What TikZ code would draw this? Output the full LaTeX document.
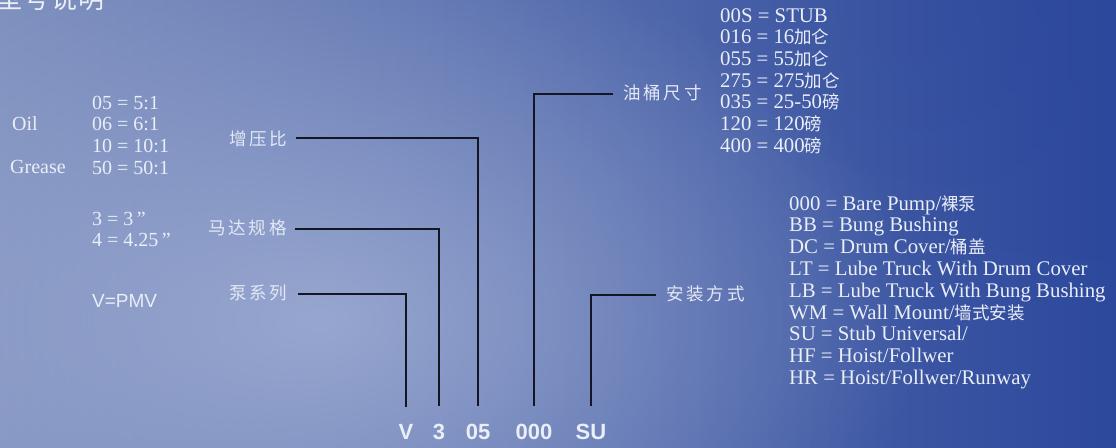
\documentclass[tikz,border=0pt]{standalone}
\usepackage{fontspec}
\setmainfont{Liberation Serif}
\setsansfont{Liberation Sans}
\newfontfamily\cjk{Noto Sans CJK SC}
\usetikzlibrary{fadings}
\definecolor{bgL}{RGB}{126,144,190}
\definecolor{bgR}{RGB}{44,72,156}
\definecolor{glowC}{RGB}{160,174,212}
\definecolor{txt}{RGB}{234,238,247}
\definecolor{lineC}{RGB}{20,22,38}
\tikzfading[name=glowfade, inner color=transparent!0, outer color=transparent!100]
\newcommand\zhtxt[1]{{\cjk\fontsize{17.5}{20}\selectfont #1}}
\begin{document}
\begin{tikzpicture}[x=1pt,y=-1pt,
  lst/.style={text=txt, font=\fontsize{20}{22}\selectfont, inner sep=0, anchor=base west},
  lstb/.style={lst, font=\fontsize{20.8}{22}\selectfont},
  cnlbl/.style={text=txt!94!bgL, font=\cjk\fontsize{17.5}{20}\selectfont\addfontfeature{LetterSpace=16}, inner sep=0, anchor=west},
  codelbl/.style={text=txt, font=\sffamily\bfseries\fontsize{22}{24}\selectfont, inner sep=0, anchor=base},
  lead/.style={draw=lineC, line width=2.4pt}]
\useasboundingbox (0,0) rectangle (1116,447);
\clip (0,0) rectangle (1116,447);
\shade[left color=bgL, right color=bgR] (0,0) rectangle (1116,447);
\fill[glowC, path fading=glowfade, opacity=0.85] (320,320) ellipse [x radius=600, y radius=380];
\fill[bgR, path fading=glowfade, opacity=0.5] (1116,0) ellipse [x radius=420, y radius=260];

% title
\node[text=txt, font=\cjk\fontsize{26}{28}\selectfont\addfontfeature{LetterSpace=6}, inner sep=0, anchor=base west] (title) at (-4,9) {型号说明};

% left texts
\node[lst] (oil) at (12,130) {Oil};
\node[lst] (grease) at (10,173) {Grease};
\foreach \t [count=\i from 0] in {{05 = 5:1},{06 = 6:1},{10 = 10:1},{50 = 50:1}}
  \node[lst] (ratio\i) at (92,{109+21.7*\i}) {\t};
\node[lst] (m3) at (92,225) {3 = 3\,”};
\node[lst] (m4) at (92,246) {4 = 4.25\,”};
\node[text=txt, font=\sffamily\fontsize{19}{22}\selectfont, inner sep=0, anchor=base west] (vpmv) at (92,307) {V=PMV};

% right lists
\foreach \t [count=\i from 0] in {{00S = STUB},{016 = 16\zhtxt{加仑}},{055 = 55\zhtxt{加仑}},{275 = 275\zhtxt{加仑}},{035 = 25-50\zhtxt{磅}},{120 = 120\zhtxt{磅}},{400 = 400\zhtxt{磅}}}
  \node[lstb] (drum\i) at (720,{22+21.7*\i}) {\t};
\foreach \t [count=\i from 0] in {{000 = Bare Pump/\zhtxt{裸泵}},{BB = Bung Bushing},{DC = Drum Cover/\zhtxt{桶盖}},{LT = Lube Truck With Drum Cover},{LB = Lube Truck With Bung Bushing},{WM = Wall Mount/\zhtxt{墙式安装}},{SU = Stub Universal/},{HF = Hoist/Follwer},{HR = Hoist/Follwer/Runway}}
  \node[lstb] (mount\i) at (789,{210+21.8*\i}) {\t};

% chinese labels
\node[cnlbl] (lbRatio) at (229,139) {增压比};
\node[cnlbl] (lbMotor) at (208,228) {马达规格};
\node[cnlbl] (lbSeries) at (229,293) {泵系列};
\node[cnlbl] (lbDrum) at (623,93) {油桶尺寸};
\node[cnlbl] (lbMount) at (666,294) {安装方式};

% codes
\node[codelbl] (cV) at (406,439) {V};
\node[codelbl] (c3) at (439,439) {3};
\node[codelbl] (c05) at (478,439) {05};
\node[codelbl] (c000) at (534,439) {000};
\node[codelbl] (cSU) at (591,439) {SU};

% leaders
\draw[lead] (lbSeries.east) ++(10,1) -| ([yshift=17pt]cV.north);
\draw[lead] (lbMotor.east) ++(8,1) -| ([yshift=17pt]c3.north);
\draw[lead] (lbRatio.east) ++(8,-1) -| ([yshift=17pt]c05.north);
\draw[lead] (lbDrum.west) ++(-10,1) -| ([yshift=17pt]c000.north);
\draw[lead] (lbMount.west) ++(-10,1) -| ([yshift=17pt]cSU.north);
\end{tikzpicture}
\end{document}
